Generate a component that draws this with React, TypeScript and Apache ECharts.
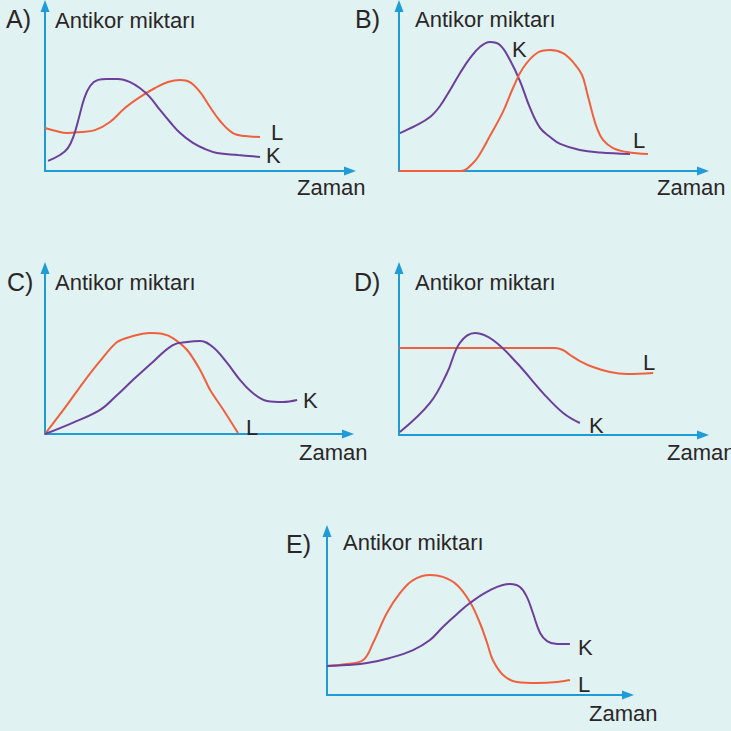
import React, { useEffect, useRef } from "react";
import * as echarts from "echarts";

// Data: [time, antibody amount] in normalized units (0-100 on both axes)
const panelALine: number[][] = [[0, 26.1], [3.6, 24.2], [7.2, 23], [11.5, 23.6], [16.4, 24.8], [21.3, 29.7], [26.2, 38.2], [31.1, 44.8], [36.1, 50.3], [40.3, 53.9], [44.3, 55.2], [47.5, 53.9], [50.8, 47.9], [54.1, 38.8], [57.4, 30.3], [61.6, 23], [65.6, 21.2], [70.5, 20.6]];
const panelAK: number[][] = [[1, 6.1], [4.9, 9.7], [7.5, 13.9], [9.5, 21.8], [11.1, 32.1], [12.8, 43.6], [14.8, 51.5], [17.4, 55.2], [20.3, 55.8], [23.9, 55.8], [27.9, 53.9], [31.5, 49.7], [34.4, 44.8], [37.7, 37], [41, 29.7], [44.3, 23], [48.5, 17], [52.5, 13.3], [56.4, 10.9], [63.3, 9.7], [70.5, 8.5]];

const panelBK: number[][] = [[0.3, 23], [5.3, 27.3], [10.2, 32.7], [13.5, 39.4], [16.8, 49.1], [20.1, 59.4], [23.4, 68.5], [26.6, 75.2], [29.9, 78.2], [33.2, 76.4], [36.5, 67.3], [39.8, 54.5], [43.1, 38.2], [46.4, 26.1], [49.7, 20.6], [53, 16.4], [59.5, 12.7], [66.1, 11.2], [76, 10.3]];
const panelBL: number[][] = [[0, 0], [10.2, 0], [20.1, 0], [21.7, 0.6], [23.4, 3], [26, 8.5], [29.9, 21.2], [34.2, 35.8], [37.5, 50.3], [40.8, 62.4], [45.4, 71.5], [49.7, 73.3], [53.9, 71.5], [57.2, 66.1], [60.2, 58.2], [61.8, 47.9], [63.5, 35.8], [65.1, 26.1], [67.1, 18.8], [70.4, 13.9], [75, 11.5], [81.9, 10.3]];

const panelCL: number[][] = [[0, 0], [6.3, 15.1], [12.5, 30.7], [18.2, 44], [23.8, 55.4], [29, 59], [34.7, 60.8], [38.9, 60.2], [42.2, 57.8], [46.9, 50.6], [51.2, 38.6], [54.5, 26.5], [59.1, 13.9], [63.7, 0.6]];
const panelCK: number[][] = [[0, 0], [8.9, 6.6], [18.2, 14.5], [23.8, 23.5], [29, 32.5], [35.6, 43.4], [42.2, 53.6], [46.9, 55.4], [51.2, 56], [55.4, 52.4], [60.1, 42.8], [64.4, 32.5], [68.6, 24.7], [73.3, 19.9], [78.5, 19.3], [83.2, 20.5]];

const panelDL: number[][] = [[0, 52.1], [26.6, 52.1], [51.3, 52.1], [53.9, 50.9], [56.3, 47.9], [59.5, 44.3], [63.8, 40.7], [69.4, 37.7], [75, 36.5], [83.6, 37.1]];
const panelDK: number[][] = [[0.3, 1.8], [10.2, 19.2], [15.8, 37.1], [20, 55.1], [25, 61.1], [30.9, 56.9], [38.8, 43.1], [47.4, 25.1], [54, 13.2], [59.5, 7.2]];

const panelEL: number[][] = [[0, 17.7], [6.6, 18.9], [12, 21.3], [15.3, 31.7], [19.9, 50], [24.3, 62.2], [28.6, 70.1], [34.2, 73.2], [38.5, 72], [43.2, 67.1], [47.5, 56.7], [50.8, 43.9], [53.2, 31.7], [55.1, 21.3], [58.5, 12.2], [63.1, 7.9], [69.8, 7.3], [76.4, 7.9], [80.7, 9.1]];
const panelEK: number[][] = [[0, 17.7], [6.6, 18.3], [13.3, 19.5], [20.9, 22.6], [28.6, 27.4], [34.2, 33.5], [38.5, 41.5], [43.2, 49.4], [47.5, 56.1], [54.2, 64], [60.8, 67.7], [64.1, 65.9], [66.4, 59.8], [68.4, 50], [70.8, 37.8], [73.1, 32.9], [76.4, 31.1], [80.7, 31.1]];

const panelLetters = ["A)", "B)", "C)", "D)", "E)"];
const yTitle = "Antikor miktarı";
const xTitle = "Zaman";

const ORANGE = "#f0603c";
const PURPLE = "#6b3f9b";
const BLUE = "#1f9bd7";
const TEXT = "#2a2627";
const BG = "#e1f2f2";
const FONT = '22px "Liberation Sans", Arial, sans-serif';
const LETTER_FONT = '25px "Liberation Sans", Arial, sans-serif';

const grids = [
  { left: 45, top: 6, width: 305, height: 165 },
  { left: 399, top: 6, width: 304, height: 165 },
  { left: 45, top: 268, width: 303, height: 166 },
  { left: 399, top: 268, width: 304, height: 167 },
  { left: 327, top: 531, width: 301, height: 164 },
];

const seriesDefs = [
  { grid: 0, data: panelALine, color: ORANGE },
  { grid: 0, data: panelAK, color: PURPLE },
  { grid: 1, data: panelBK, color: PURPLE },
  { grid: 1, data: panelBL, color: ORANGE },
  { grid: 2, data: panelCL, color: ORANGE, smooth: 0.3 },
  { grid: 2, data: panelCK, color: PURPLE },
  { grid: 3, data: panelDL, color: ORANGE },
  { grid: 3, data: panelDK, color: PURPLE },
  { grid: 4, data: panelEL, color: ORANGE },
  { grid: 4, data: panelEK, color: PURPLE },
];

// text anchors: [x, y-center]
const letterPos = [[6, 19], [355, 19], [7, 282], [354, 282], [286, 544]];
const yTitlePos = [[55, 20], [415, 19], [55, 282], [415, 282], [343, 542]];
const xTitlePos = [[297, 187], [657, 187], [299, 452], [667, 452], [589, 713]];
const curveLabels: { t: string; p: number[] }[] = [
  { t: "L", p: [271, 132] },
  { t: "K", p: [266, 155] },
  { t: "K", p: [512, 49] },
  { t: "L", p: [633, 140] },
  { t: "K", p: [303, 400] },
  { t: "L", p: [246, 427] },
  { t: "L", p: [643, 362] },
  { t: "K", p: [589, 425] },
  { t: "K", p: [578, 647] },
  { t: "L", p: [578, 684] },
];

function txt(text: string, p: number[], font = FONT) {
  return {
    type: "text",
    x: p[0],
    y: p[1],
    style: { text, font, fill: TEXT, textAlign: "left", textVerticalAlign: "middle" },
    z: 100,
  };
}

export default function App() {
  const ref = useRef<HTMLDivElement>(null);
  useEffect(() => {
    if (!ref.current) return;
    const chart = echarts.init(ref.current, undefined, { renderer: "svg" });
    const axisLine = {
      show: true,
      symbol: ["none", "triangle"],
      symbolSize: [9, 12],
      lineStyle: { color: BLUE, width: 2 },
    };
    const graphic: any[] = [];
    for (let i = 0; i < 5; i++) {
      graphic.push(txt(panelLetters[i], letterPos[i], LETTER_FONT));
      graphic.push(txt(yTitle, yTitlePos[i]));
      graphic.push(txt(xTitle, xTitlePos[i]));
    }
    curveLabels.forEach((c) => graphic.push(txt(c.t, c.p)));
    chart.setOption({
      animation: false,
      backgroundColor: BG,
      grid: grids.map((g) => ({ ...g, containLabel: false })),
      xAxis: grids.map((_, i) => ({
        type: "value",
        gridIndex: i,
        min: 0,
        max: 100,
        axisLine,
        axisTick: { show: false },
        axisLabel: { show: false },
        splitLine: { show: false },
      })),
      yAxis: grids.map((_, i) => ({
        type: "value",
        gridIndex: i,
        min: 0,
        max: 100,
        axisLine,
        axisTick: { show: false },
        axisLabel: { show: false },
        splitLine: { show: false },
      })),
      series: seriesDefs.map((s) => ({
        type: "line",
        xAxisIndex: s.grid,
        yAxisIndex: s.grid,
        data: s.data,
        smooth: (s as any).smooth ?? 0.4,
        showSymbol: false,
        clip: false,
        lineStyle: { color: s.color, width: 2 },
        z: 5,
      })),
      graphic,
    });
    return () => chart.dispose();
  }, []);
  return (
    <div
      ref={ref}
      style={{ position: "fixed", left: 0, top: 0, width: 731, height: 731 }}
    />
  );
}
